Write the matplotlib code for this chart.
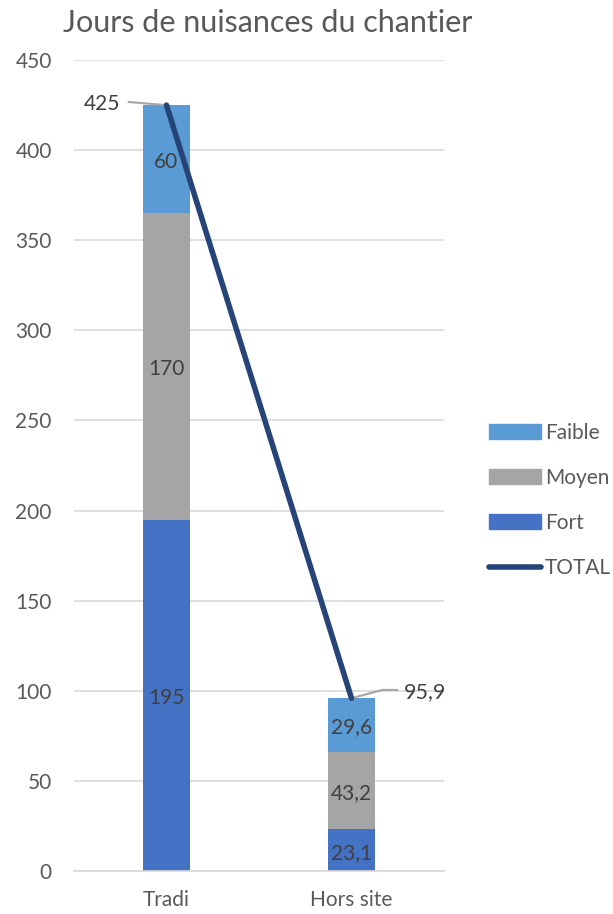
import matplotlib
matplotlib.use("Agg")
import matplotlib.pyplot as plt
from matplotlib.patches import Patch
from matplotlib.lines import Line2D

plt.rcParams["font.family"] = ["Lato", "DejaVu Sans"]

# Data
categories = ["Tradi", "Hors site"]
fort = [195, 23.1]
moyen = [170, 43.2]
faible = [60, 29.6]
total = [425, 95.9]

c_fort = "#4472C4"
c_moyen = "#A5A5A5"
c_faible = "#5B9BD5"
c_total = "#264478"
txt = "#595959"

fig = plt.figure(figsize=(6.13, 9.14), dpi=100)
ax = fig.add_axes([0.1207, 0.047, 0.6036, 0.8873])

x = list(range(len(categories)))
w = 0.25
bot2 = [a + b for a, b in zip(fort, moyen)]
ax.bar(x, fort, w, color=c_fort, zorder=2)
ax.bar(x, moyen, w, bottom=fort, color=c_moyen, zorder=2)
ax.bar(x, faible, w, bottom=bot2, color=c_faible, zorder=2)
ax.plot(x, total, color=c_total, lw=4, solid_capstyle="round", zorder=4)

# segment labels
def fmt(v):
    return ("%g" % v).replace(".", ",")

for i in x:
    ax.text(i, fort[i] / 2 - 1.5, fmt(fort[i]), ha="center", va="center",
            fontsize=15, color="#404040", zorder=3)
    ax.text(i, fort[i] + moyen[i] / 2 - 1.5, fmt(moyen[i]), ha="center", va="center",
            fontsize=15, color="#404040", zorder=3)
    ax.text(i, bot2[i] + faible[i] / 2 - 1.5, fmt(faible[i]), ha="center", va="center",
            fontsize=15, color="#404040", zorder=3)

# total labels with leader lines
ax.plot([-0.204, 0], [426.7, total[0]], color="#A6A6A6", lw=1.5, zorder=3)
ax.text(-0.25, 425.5, fmt(total[0]), ha="right", va="center", fontsize=15, color="#404040")
ax.plot([1, 1.167, 1.247], [total[1], 100.5, 100.5], color="#A6A6A6", lw=1.5, zorder=3)
ax.text(1.285, 99.2, fmt(total[1]), ha="left", va="center", fontsize=15.5, color="#404040")

ax.set_xlim(-0.5, 1.5)
ax.set_ylim(0, 450)
ax.set_yticks(range(0, 451, 50))
ax.set_xticks(x)
ax.set_xticklabels(categories)
ax.tick_params(axis="both", length=0, labelsize=15, colors=txt)
ax.tick_params(axis="y", pad=16)
ax.tick_params(axis="x", pad=14)
ax.grid(axis="y", color="#D9D9D9", lw=1.2, zorder=0)
ax.set_axisbelow(True)
for s in ["top", "right", "left"]:
    ax.spines[s].set_visible(False)
ax.spines["bottom"].set_color("#D9D9D9")
ax.spines["bottom"].set_linewidth(1.2)

fig.text(0.437, 0.975, "Jours de nuisances du chantier", ha="center", va="center",
         fontsize=22, color=txt)

handles = [Patch(color=c_faible), Patch(color=c_moyen), Patch(color=c_fort),
           Line2D([], [], color=c_total, lw=4, solid_capstyle="round")]
labels = ["Faible", "Moyen", "Fort", "TOTAL"]
ax.legend(handles, labels, loc="center left", bbox_to_anchor=(1.07, 0.457),
          frameon=False, fontsize=15, labelcolor=txt, handlelength=2.5,
          handleheight=0.75, handletextpad=0.2, labelspacing=1.21)

fig.savefig("out.png", dpi=100)
